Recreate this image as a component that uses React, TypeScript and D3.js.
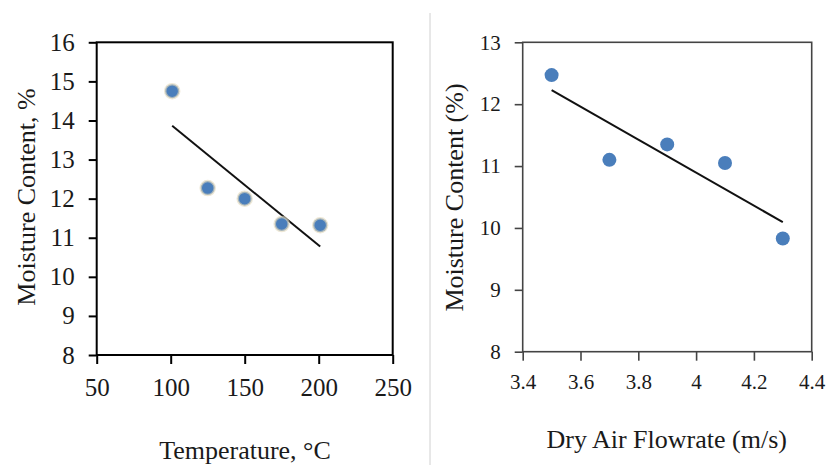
import React, { useEffect, useRef } from 'react'
import * as d3 from 'd3'

// left panel: temperature vs moisture
const tempX = [101, 125, 150, 175, 201]
const tempMoisture = [14.75, 12.27, 12.0, 11.35, 11.32]
const tempTicks = [50, 100, 150, 200, 250]
const tempYTicks = [8, 9, 10, 11, 12, 13, 14, 15, 16]

// right panel: dry air flowrate vs moisture
const flowX = [3.5, 3.7, 3.9, 4.1, 4.3]
const flowMoisture = [12.47, 11.1, 11.35, 11.05, 9.83]
const flowTicks = [3.4, 3.6, 3.8, 4.0, 4.2, 4.4]
const flowYTicks = [8, 9, 10, 11, 12, 13]

const font = "'Liberation Serif', 'Times New Roman', serif"

// least squares fit, drawn over the data range like Excel's trendline
function fit(xs: number[], ys: number[]) {
  const mx = d3.mean(xs) as number
  const my = d3.mean(ys) as number
  let sxy = 0, sxx = 0
  xs.forEach((x, i) => { sxy += (x - mx) * (ys[i] - my); sxx += (x - mx) * (x - mx) })
  const b = sxy / sxx
  const a = my - b * mx
  const x0 = d3.min(xs) as number, x1 = d3.max(xs) as number
  return [[x0, a + b * x0], [x1, a + b * x1]]
}

function drawPanel(svg: any, o: any) {
  const x = d3.scaleLinear().domain(o.xDomain).range([o.left, o.right])
  const y = d3.scaleLinear().domain(o.yDomain).range([o.bottom, o.top])
  const g = svg.append('g')

  const yAxis = g.append('g')
    .attr('transform', 'translate(' + o.left + ',0)')
    .call(d3.axisLeft(y).tickValues(o.yTicks).tickSize(8).tickSizeOuter(0).tickPadding(14)
      .tickFormat(d3.format('d')))
  const xAxis = g.append('g')
    .attr('transform', 'translate(0,' + o.bottom + ')')
    .call(d3.axisBottom(x).tickValues(o.xTicks).tickSize(9).tickSizeOuter(0).tickPadding(o.xPad)
      .tickFormat((d: any) => o.xFormat(d)))
  ;[yAxis, xAxis].forEach((ax) => {
    ax.select('.domain').remove()
    ax.selectAll('line').attr('stroke', o.axisColor).attr('stroke-width', o.lineW)
    ax.selectAll('text').style('font-family', font).style('font-size', o.tickFont + 'px').attr('fill', '#1a1a1a')
  })

  g.append('rect')
    .attr('x', o.left).attr('y', o.top)
    .attr('width', o.right - o.left).attr('height', o.bottom - o.top)
    .attr('fill', 'none').attr('stroke', o.axisColor).attr('stroke-width', o.lineW)

  const tl = fit(o.xs, o.ys)
  g.append('path')
    .attr('d', d3.line()(tl.map((p) => [x(p[0]), y(p[1])]) as any))
    .attr('stroke', '#111').attr('stroke-width', 2).attr('fill', 'none')

  g.selectAll('circle.pt')
    .data(o.xs.map((v: number, i: number) => [v, o.ys[i]]))
    .enter()
    .append('circle')
    .attr('class', 'pt')
    .attr('cx', (d: any) => x(d[0]))
    .attr('cy', (d: any) => y(d[1]))
    .attr('r', 7)
    .attr('fill', '#4a7ebb')
    .attr('stroke', o.halo)
    .attr('stroke-width', 2.5)

  g.append('text')
    .attr('transform', 'translate(' + o.yTitleX + ',' + o.yTitleY + ') rotate(-90)')
    .attr('text-anchor', 'middle')
    .style('font-family', font).style('font-size', '26px').attr('fill', '#1a1a1a')
    .text(o.yTitle)
  g.append('text')
    .attr('x', o.xTitleX).attr('y', o.xTitleY)
    .attr('text-anchor', 'middle')
    .style('font-family', font).style('font-size', '26px').attr('fill', '#1a1a1a')
    .text(o.xTitle)
}

export default function App() {
  const ref = useRef<SVGSVGElement>(null)
  useEffect(() => {
    const svg = d3.select(ref.current)
    svg.selectAll('*').remove()

    drawPanel(svg, {
      xDomain: [50, 250], yDomain: [8, 16],
      left: 96.7, right: 392.7, top: 42.3, bottom: 355,
      xTicks: tempTicks, yTicks: tempYTicks, xFormat: d3.format('d'), xPad: 14,
      xs: tempX, ys: tempMoisture,
      axisColor: '#000', lineW: 2, tickFont: 25, halo: 'rgba(225,215,185,0.6)',
      yTitle: 'Moisture Content, %', yTitleX: 35, yTitleY: 197,
      xTitle: 'Temperature, \u00B0C', xTitleX: 245, xTitleY: 459,
    })

    svg.append('line')
      .attr('x1', 430).attr('x2', 430).attr('y1', 13).attr('y2', 465)
      .attr('stroke', '#d0d0d0').attr('stroke-width', 1)

    drawPanel(svg, {
      xDomain: [3.4, 4.4], yDomain: [8, 13],
      left: 522.7, right: 811.7, top: 42.3, bottom: 351.7,
      xTicks: flowTicks, yTicks: flowYTicks, xFormat: (d: number) => d3.format('')(+d.toFixed(1)), xPad: 13,
      xs: flowX, ys: flowMoisture,
      axisColor: '#444', lineW: 1.6, tickFont: 21, halo: 'none',
      yTitle: 'Moisture Content (%)', yTitleX: 463, yTitleY: 197.5,
      xTitle: 'Dry Air Flowrate (m/s)', xTitleX: 666.7, xTitleY: 448,
    })
  }, [])
  return (
    <svg ref={ref} width={829} height={465}
      style={{ position: 'absolute', left: 0, top: 0, background: '#fff', display: 'block' }} />
  )
}
